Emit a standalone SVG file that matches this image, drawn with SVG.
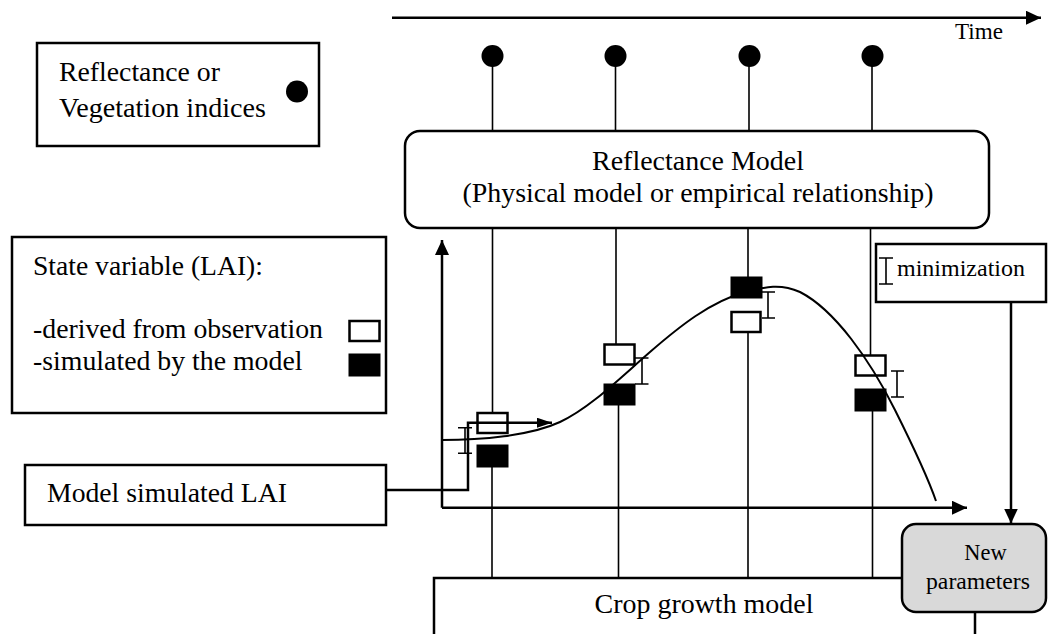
<svg xmlns="http://www.w3.org/2000/svg" width="1049" height="634" viewBox="0 0 1049 634">
<style>
text{font-family:"Liberation Serif","Times New Roman",serif;fill:#000}
.t25{font-size:27.5px}
.t22{font-size:24px}
.t21{font-size:22.5px}
.box{fill:#fff;stroke:#000;stroke-width:2.5}
.ln{fill:none;stroke:#000;stroke-width:1.6}
.ax{fill:none;stroke:#000;stroke-width:2.5}
.bar{fill:none;stroke:#000;stroke-width:1.6}
.obs{fill:#fff;stroke:#000;stroke-width:2.5}
.sim{fill:#000;stroke:#000;stroke-width:1}
</style>
<defs>
<marker id="arr" viewBox="0 0 15 14" refX="15" refY="7" markerWidth="15" markerHeight="14" markerUnits="userSpaceOnUse" orient="auto">
<path d="M0,0 L15,7 L0,14 Z" fill="#000"/>
</marker>
<marker id="arrs" viewBox="0 0 15 10" refX="15" refY="5" markerWidth="15" markerHeight="10" markerUnits="userSpaceOnUse" orient="auto">
<path d="M0,0 L15,5 L0,10 Z" fill="#000"/>
</marker>
</defs>

<g id="time-axis">
<line x1="392" y1="17.7" x2="1041" y2="17.7" class="ax" marker-end="url(#arr)"/>
<text class="t21" x="955" y="39" textLength="48" lengthAdjust="spacingAndGlyphs">Time</text>
</g>

<g id="legend-observation">
<rect x="37" y="43" width="282" height="103" class="box"/>
<text class="t25" x="59" y="81" textLength="161" lengthAdjust="spacingAndGlyphs">Reflectance or</text>
<text class="t25" x="59" y="117" textLength="207" lengthAdjust="spacingAndGlyphs">Vegetation indices</text>
<circle cx="297" cy="91.5" r="11" fill="#000"/>
</g>

<g id="connectors">
<line x1="492.5" y1="56" x2="492.5" y2="131" class="ln"/>
<line x1="615.5" y1="56" x2="615.5" y2="131" class="ln"/>
<line x1="749" y1="56" x2="749" y2="131" class="ln"/>
<line x1="872" y1="56" x2="872" y2="131" class="ln"/>
<line x1="492.5" y1="228" x2="492.5" y2="413" class="ln"/>
<line x1="616" y1="228" x2="616" y2="344" class="ln"/>
<line x1="748" y1="228" x2="748" y2="277" class="ln"/>
<line x1="870.5" y1="228" x2="870.5" y2="355" class="ln"/>
<line x1="492" y1="467" x2="492" y2="578" class="ln"/>
<line x1="618.5" y1="405" x2="618.5" y2="578" class="ln"/>
<line x1="748" y1="332" x2="748" y2="578" class="ln"/>
<line x1="872.5" y1="411" x2="872.5" y2="578" class="ln"/>
<polyline points="442,507.7 442,240" class="ax" marker-end="url(#arr)"/>
<polyline points="442,507.7 967,507.7" class="ax" marker-end="url(#arr)"/>
<line x1="1011" y1="302" x2="1011" y2="523.5" class="ax" marker-end="url(#arr)"/>
</g>

<g id="observations">
<circle cx="492.5" cy="56" r="11" fill="#000"/>
<circle cx="615.5" cy="56" r="11" fill="#000"/>
<circle cx="749.5" cy="56" r="11" fill="#000"/>
<circle cx="872.5" cy="56" r="11" fill="#000"/>
</g>

<g id="reflectance-model">
<rect x="405" y="131" width="584" height="97" rx="15" ry="15" class="box"/>
<text class="t25" x="698" y="170" text-anchor="middle" textLength="212" lengthAdjust="spacingAndGlyphs">Reflectance Model</text>
<text class="t25" x="698" y="201.7" text-anchor="middle" textLength="471" lengthAdjust="spacingAndGlyphs">(Physical model or empirical relationship)</text>
</g>

<g id="state-legend">
<rect x="12" y="237" width="374" height="176" class="box"/>
<text class="t25" x="33" y="275" textLength="230" lengthAdjust="spacingAndGlyphs">State variable (LAI):</text>
<text class="t25" x="33" y="338" textLength="290" lengthAdjust="spacingAndGlyphs">-derived from observation</text>
<text class="t25" x="33" y="370" textLength="269.5" lengthAdjust="spacingAndGlyphs">-simulated by the model</text>
<rect x="349.5" y="321" width="30" height="20" class="obs"/>
<rect x="349" y="354" width="31" height="22" class="sim"/>
</g>

<g id="minimization">
<rect x="876" y="244" width="170" height="58" class="box"/>
<path d="M886,258 V284 M879,258 H893 M879,284 H893" class="bar"/>
<text class="t22" x="897" y="276" textLength="128" lengthAdjust="spacingAndGlyphs">minimization</text>
</g>

<g id="model-simulated-lai">
<rect x="25" y="465" width="361" height="60" class="box"/>
<text class="t25" x="47" y="502" textLength="240" lengthAdjust="spacingAndGlyphs">Model simulated LAI</text>
</g>

<g id="crop-growth-model">
<rect x="434" y="578" width="541" height="70" class="box"/>
<text class="t25" x="704" y="613" text-anchor="middle" textLength="219" lengthAdjust="spacingAndGlyphs">Crop growth model</text>
</g>

<g id="new-parameters">
<rect x="902" y="524" width="144" height="88" rx="14" ry="14" fill="#d9d9d9" stroke="#000" stroke-width="2.5"/>
<text class="t21" x="985.5" y="560" text-anchor="middle" textLength="42.3" lengthAdjust="spacingAndGlyphs">New</text>
<text class="t21" x="978" y="589" text-anchor="middle" textLength="104" lengthAdjust="spacingAndGlyphs">parameters</text>
</g>

<g id="lai-values">
<rect x="477.5" y="413" width="30" height="20" class="obs"/>
<rect x="477" y="445" width="31" height="22" class="sim"/>
<rect x="604.5" y="344.5" width="30" height="20" class="obs"/>
<rect x="604" y="384" width="31" height="21" class="sim"/>
<rect x="731" y="277" width="31" height="21" class="sim"/>
<rect x="731.5" y="312" width="29" height="20" class="obs"/>
<rect x="855.5" y="355.5" width="30" height="20" class="obs"/>
<rect x="855" y="389" width="31" height="22" class="sim"/>
<path d="M465,427.7 V453.3 M458,427.7 H472 M458,453.3 H472" class="bar"/>
<path d="M642,358 V384 M635,358 H648.5 M635,384 H648.5" class="bar"/>
<path d="M768,292 V318 M762,292 H775 M762,318 H775" class="bar"/>
<path d="M897,371 V397 M891,371 H904 M891,397 H904" class="bar"/>
</g>

<g id="lai-curve">
<path d="M442,440 C480,440 530,436 560,422 C590,408 620,378 650,352 C680,326 710,302 745,292 C765,287 780,283 800,292 C835,310 870,360 895,410 C915,450 928,478 936,501" fill="none" stroke="#000" stroke-width="2"/>
</g>

<g id="lai-connector">
<polyline points="386,490 468,490 468,422.7 552,422.7" fill="none" stroke="#000" stroke-width="2.5" marker-end="url(#arrs)"/>
</g>
</svg>
